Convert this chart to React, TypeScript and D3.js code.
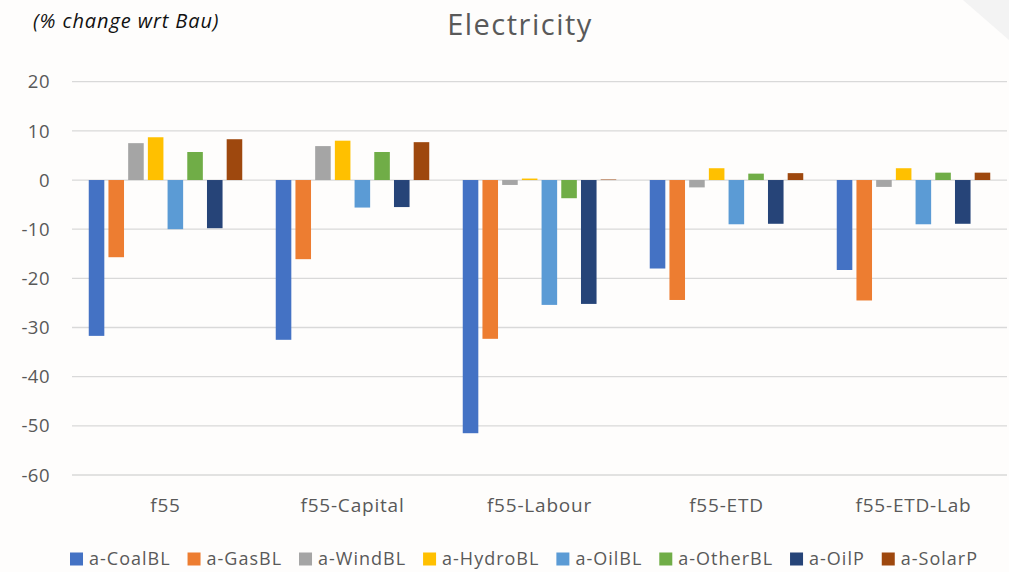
import React, { useEffect, useRef } from "react";
import * as d3 from "d3";

const categories = ["f55", "f55-Capital", "f55-Labour", "f55-ETD", "f55-ETD-Lab"];
const seriesNames = ["a-CoalBL", "a-GasBL", "a-WindBL", "a-HydroBL", "a-OilBL", "a-OtherBL", "a-OilP", "a-SolarP"];
const seriesColors = ["#4472C4", "#ED7D31", "#A5A5A5", "#FFC000", "#5B9BD5", "#70AD47", "#264478", "#9E480E"];
const coalBL = [-31.7, -32.5, -51.5, -18.0, -18.3];
const gasBL = [-15.7, -16.1, -32.3, -24.4, -24.5];
const windBL = [7.5, 6.9, -1.0, -1.5, -1.4];
const hydroBL = [8.7, 8.0, 0.3, 2.4, 2.4];
const oilBL = [-10.0, -5.6, -25.4, -9.0, -9.0];
const otherBL = [5.7, 5.7, -3.7, 1.3, 1.5];
const oilP = [-9.8, -5.5, -25.2, -8.9, -8.9];
const solarP = [8.3, 7.7, 0.1, 1.4, 1.5];
const seriesValues = [coalBL, gasBL, windBL, hydroBL, oilBL, otherBL, oilP, solarP];
const yTicks = [20, 10, 0, -10, -20, -30, -40, -50, -60];

const W = 1009;
const H = 572;
const FONT = "'Open Sans', 'Noto Sans', sans-serif";

export default function App() {
  const ref = useRef<SVGSVGElement | null>(null);

  useEffect(() => {
    const svg = d3.select(ref.current);
    svg.selectAll("*").remove();

    svg.append("rect").attr("width", W).attr("height", H).attr("fill", "#fefdfc");
    svg.append("polygon").attr("points", "963,0 1009,0 1009,40").attr("fill", "#f3f3f3");

    const y = d3.scaleLinear().domain([-60, 20]).range([475, 81.7]);
    const x0 = d3.scaleBand<string>().domain(categories).range([72, 1007]).padding(0);
    const innerW = x0.bandwidth() * 0.843;
    const x1 = d3
      .scaleBand<string>()
      .domain(seriesNames)
      .range([0, innerW])
      .paddingInner(0.21)
      .paddingOuter(0.105);

    // gridlines
    svg
      .append("g")
      .selectAll("line")
      .data(yTicks)
      .join("line")
      .attr("x1", 72)
      .attr("x2", 1007)
      .attr("y1", (d) => y(d))
      .attr("y2", (d) => y(d))
      .attr("stroke", "#d9d9d9")
      .attr("stroke-width", 1.3);

    // y labels
    svg
      .append("g")
      .selectAll("text")
      .data(yTicks)
      .join("text")
      .attr("x", 50)
      .attr("y", (d) => y(d))
      .attr("dy", "0.36em")
      .attr("text-anchor", "end")
      .attr("font-family", FONT)
      .attr("font-size", 18.5)
      .attr("letter-spacing", 0.5)
      .attr("fill", "#595959")
      .text((d) => String(d));

    // bars
    const groups = svg
      .append("g")
      .selectAll("g")
      .data(categories)
      .join("g")
      .attr("transform", (c) => `translate(${(x0(c) as number) + (x0.bandwidth() - innerW) / 2},0)`);

    groups
      .selectAll("rect")
      .data((c) => {
        const ci = categories.indexOf(c);
        return seriesNames.map((s, si) => ({ s, si, v: seriesValues[si][ci] }));
      })
      .join("rect")
      .attr("x", (d) => x1(d.s) as number)
      .attr("width", x1.bandwidth())
      .attr("y", (d) => y(Math.max(0, d.v)))
      .attr("height", (d) => Math.abs(y(d.v) - y(0)))
      .attr("fill", (d) => seriesColors[d.si]);

    // category labels
    svg
      .append("g")
      .selectAll("text")
      .data(categories)
      .join("text")
      .attr("x", (c) => (x0(c) as number) + x0.bandwidth() / 2)
      .attr("y", 505)
      .attr("dy", "0.36em")
      .attr("text-anchor", "middle")
      .attr("font-family", FONT)
      .attr("font-size", 19)
      .attr("letter-spacing", 0.8)
      .attr("fill", "#595959")
      .text((c) => c);

    // title
    svg
      .append("text")
      .attr("x", 520)
      .attr("y", 25)
      .attr("dy", "0.36em")
      .attr("text-anchor", "middle")
      .attr("font-family", FONT)
      .attr("font-size", 29)
      .attr("letter-spacing", 1.5)
      .attr("fill", "#595959")
      .text("Electricity");

    svg
      .append("text")
      .attr("x", 33)
      .attr("y", 21)
      .attr("dy", "0.36em")
      .attr("font-family", FONT)
      .attr("font-style", "italic")
      .attr("font-size", 20)
      .attr("letter-spacing", 0.9)
      .attr("fill", "#111")
      .text("(% change wrt Bau)");

    // legend
    const leg = svg.append("g");
    const items = seriesNames.map((s, i) => {
      const g = leg.append("g");
      g.append("rect").attr("width", 13).attr("height", 13).attr("y", -6.5).attr("fill", seriesColors[i]);
      const t = g
        .append("text")
        .attr("x", 19)
        .attr("dy", "0.36em")
        .attr("font-family", FONT)
        .attr("font-size", 18)
        .attr("letter-spacing", 1)
        .attr("fill", "#595959")
        .text(s);
      const w = 19 + (t.node() as SVGTextElement).getComputedTextLength();
      return { g, w };
    });
    const gap = 17;
    const total = d3.sum(items, (d) => d.w) + gap * (items.length - 1);
    let cx = 524 - total / 2;
    items.forEach((it) => {
      it.g.attr("transform", `translate(${cx},559)`);
      cx += it.w + gap;
    });
  }, []);

  return (
    <svg
      ref={ref}
      width={W}
      height={H}
      style={{ display: "block", position: "absolute", left: 0, top: 0 }}
    />
  );
}
